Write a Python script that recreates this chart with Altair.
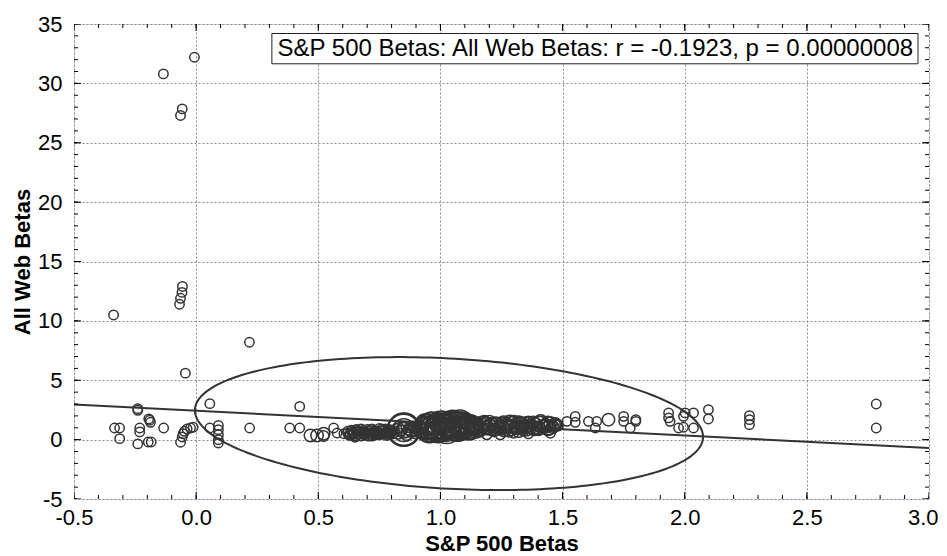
import numpy as np
import pandas as pd
import altair as alt

# ---------------- data ----------------
# outlying / sparse firms (S&P 500 beta, All-web beta, bubble weight)
sp_sparse = [-0.007, -0.134, -0.057, -0.064, -0.056, -0.058, -0.064, -0.068, -0.338, 0.218, -0.044,
             -0.334, -0.313, -0.313, -0.239, -0.239, -0.231, -0.231, -0.239, -0.194, -0.190, -0.187,
             -0.196, -0.184, -0.133, -0.064, -0.057, -0.053, -0.048, -0.037, -0.023, -0.012,
             0.056, 0.056, 0.091, 0.091, 0.091, 0.091, 0.091, 0.219,
             0.424, 0.383, 0.424, 0.468, 0.495, 0.522, 0.522, 0.563, 0.577, 0.605]
web_sparse = [32.2, 30.8, 27.85, 27.3, 12.9, 12.4, 11.9, 11.4, 10.5, 8.2, 5.6,
              0.98, 0.98, 0.08, 2.61, 2.47, 0.98, 0.65, -0.36, 1.74, 1.63, 1.46,
              -0.2, -0.2, 0.98, -0.22, 0.22, 0.5, 0.7, 0.9, 0.98, 1.04,
              3.03, 0.98, 1.2, 0.84, 0.42, 0.0, -0.28, 0.98,
              2.8, 0.98, 0.98, 0.35, 0.35, 0.5, 0.3, 0.98, 0.56, 0.5]
w_sparse = [1.0] * 43 + [1.75, 1.75, 1.75, 1.3, 1.0, 1.0, 1.0]

# left part of the main cluster
sp_a = [0.620, 0.630, 0.635, 0.645, 0.650, 0.655, 0.665, 0.670, 0.675, 0.685, 0.690, 0.700, 0.705,
        0.715, 0.720, 0.730, 0.735, 0.745, 0.750, 0.760, 0.765, 0.775, 0.780, 0.790, 0.795, 0.805]
web_a = [0.55, 0.35, 0.75, 0.50, 0.20, 0.85, 0.45, 0.65, 0.30, 0.80, 0.50, 0.35, 0.70,
         0.55, 0.90, 0.40, 0.70, 0.55, 0.95, 0.45, 0.75, 0.60, 0.35, 0.85, 0.55, 0.70]
w_a = [1.0] * 26

# the large ring near 0.85
sp_ring = [0.85, 0.85, 0.851, 0.849, 0.85, 0.85, 0.83, 0.86, 0.87, 0.84]
web_ring = [0.84, 0.84, 0.86, 0.82, 0.8, 0.8, 1.0, 0.6, 1.0, 0.75]
w_ring = [12.5, 12.0, 11.6, 11.2, 6.0, 2.9, 1.1, 1.1, 1.0, 1.3]

# dense core
sp_core = [0.88, 0.89, 0.90, 0.91, 0.92,
           0.95, 0.97, 1.00, 1.02, 1.05, 1.07, 1.09, 1.11, 1.12, 0.96, 1.03, 1.08,
           0.94, 0.98, 1.01, 1.04, 1.06, 1.10, 0.99, 1.13]
web_core = [0.8, 1.1, 0.6, 1.0, 0.75,
            1.1, 0.9, 1.2, 0.95, 1.15, 0.9, 1.2, 1.0, 0.8, 0.6, 1.5, 0.5,
            1.3, 1.0, 0.9, 1.25, 1.0, 1.1, 1.4, 1.2]
w_core = [1.75, 1.3, 1.75, 2.3, 2.3,
          7.0, 8.0, 9.1, 8.0, 9.1, 7.0, 8.0, 6.0, 3.6, 2.3, 2.9, 2.3,
          5.0, 6.0, 5.0, 6.0, 5.0, 5.0, 4.0, 4.0]

# the many firms packed along the band 0.62 .. 1.48
sp_e = [0.62, 0.63, 0.64, 0.65, 0.66, 0.67, 0.68, 0.69, 0.70, 0.71, 0.72, 0.73, 0.74, 0.75, 0.76,
        0.77, 0.78, 0.79, 0.80, 0.81, 0.82, 0.83, 0.84, 0.85, 0.86, 0.87, 0.88, 0.89, 0.90, 0.91,
        0.92, 0.93, 0.94, 0.95, 0.96, 0.97, 0.98, 0.99, 1.00, 1.01, 1.02, 1.03, 1.04, 1.05, 1.06,
        1.07, 1.08, 1.09, 1.10, 1.11, 1.12, 1.13, 1.14, 1.15, 1.16, 1.17, 1.18, 1.19, 1.20, 1.21,
        1.22, 1.23, 1.24, 1.25, 1.26, 1.27, 1.28, 1.29, 1.30, 1.31, 1.32, 1.33, 1.34, 1.35, 1.36,
        1.37, 1.38, 1.39, 1.40, 1.41, 1.42, 1.43, 1.44, 1.45, 1.46, 1.47, 1.48]
web_e = [0.70, 0.45, 0.60, 0.30, 0.80, 0.50, 0.65, 0.40, 0.85, 0.55, 0.30, 0.75, 0.60, 0.45, 0.90,
         0.50, 0.70, 0.40, 0.80, 0.60, 0.90, 0.50, 0.75, 1.00, 0.40, 0.85, 0.65, 1.05, 0.70, 0.90,
         0.55, 1.00, 1.20, 0.80, 1.40, 1.00, 1.30, 0.70, 1.10, 1.50, 0.90, 1.25, 1.05, 1.35, 0.85,
         1.15, 1.45, 0.95, 1.30, 1.10, 0.75, 1.20, 1.00, 1.30, 0.80, 1.20, 1.50, 0.90, 1.10, 1.35,
         0.70, 1.25, 1.00, 1.45, 0.85, 1.15, 1.30, 0.95, 1.50, 1.05, 0.80, 1.35, 1.20, 0.90, 1.45,
         1.10, 1.00, 1.30, 0.85, 1.50, 1.15, 1.25, 0.95, 1.40, 1.10, 1.30, 1.20]
w_e = [1.0] * 19 + [1.3] * 13 + \
      [4.0, 6.0, 5.0, 7.0, 4.0, 6.0, 8.0, 5.0, 6.0, 7.0, 5.0, 8.0, 6.0, 4.0, 7.0, 6.0, 5.0, 7.0, 4.0, 3.0] + \
      [2.3, 1.75, 1.3, 2.3, 1.75, 1.3, 2.3, 1.75, 1.3, 2.3, 1.75, 1.3, 2.3, 1.75, 1.3, 2.3, 1.75, 1.3,
       2.3, 1.75, 1.3, 2.3, 1.75, 1.3, 2.3, 1.75, 1.3, 2.3, 1.75, 1.3, 2.3, 1.75, 1.3, 1.75, 1.3]

# a second layer of firms in between
sp_f = [0.625, 0.635, 0.645, 0.655, 0.665, 0.675, 0.685, 0.695, 0.705, 0.715, 0.725, 0.735, 0.745,
        0.755, 0.765, 0.775, 0.785, 0.795, 0.805,
        0.935, 0.945, 0.955, 0.965, 0.975, 0.985, 0.995, 1.005, 1.015, 1.025, 1.035, 1.045, 1.055,
        1.065, 1.075, 1.085, 1.095, 1.105, 1.115, 1.125,
        1.145, 1.165, 1.185, 1.205, 1.225, 1.245, 1.265, 1.285, 1.305, 1.325, 1.345, 1.365, 1.385,
        1.405, 1.425, 1.445, 1.465]
web_f = [0.40, 0.80, 0.55, 0.35, 0.70, 0.90, 0.45, 0.60, 0.30, 0.85, 0.50, 0.65, 0.40, 0.75,
         0.55, 0.90, 0.45, 0.65, 0.50,
         0.95, 1.25, 0.85, 1.35, 1.05, 1.20, 0.95, 1.40, 1.10, 0.85, 1.30, 1.00, 1.25, 0.90, 1.35,
         1.05, 1.20, 0.95, 1.15, 1.30,
         1.25, 0.95, 1.40, 1.05, 1.30, 0.90, 1.20, 1.45, 1.00, 1.25, 1.10, 1.40, 0.95, 1.30,
         1.15, 1.00, 1.25]
w_f = [1.0] * 19 + \
      [6.0, 5.0, 8.0, 6.0, 7.0, 5.0, 8.0, 6.0, 7.0, 9.0, 6.0, 5.0, 8.0, 7.0, 6.0, 5.0, 7.0, 6.0, 5.0, 4.0] + \
      [2.9, 2.3, 1.75, 2.9, 2.3, 1.75, 2.9, 2.3, 1.75, 2.9, 2.3, 1.75, 2.3, 2.9, 1.75, 2.3, 1.75]

# right part of the main cluster
sp_d = [1.14, 1.16, 1.17, 1.19, 1.20, 1.22, 1.23, 1.25, 1.26, 1.28, 1.29, 1.31, 1.32, 1.34,
        1.35, 1.37, 1.38, 1.40, 1.41, 1.43, 1.44, 1.46, 1.47, 1.48,
        1.15, 1.19, 1.245, 1.30, 1.36, 1.45]
web_d = [1.1, 0.9, 1.3, 1.0, 1.35, 0.85, 1.2, 1.0, 1.4, 0.9, 1.25, 1.05, 1.4, 0.95,
         1.25, 1.1, 1.45, 0.95, 1.3, 1.15, 1.45, 1.05, 1.3, 1.2,
         0.55, 0.42, 0.42, 0.56, 0.5, 0.56]
w_d = [3.6, 2.9, 2.9, 2.3, 2.9, 1.75, 2.9, 2.3, 2.3, 2.9, 2.9, 2.3, 2.3, 2.3,
       2.9, 2.3, 1.75, 2.3, 2.9, 2.3, 1.75, 1.75, 1.75, 1.3,
       1.1, 1.1, 1.1, 1.1, 1.1, 1.1]

# sparse firms on the right
sp_right = [1.518, 1.552, 1.552, 1.606, 1.634, 1.640, 1.688, 1.750, 1.750, 1.777, 1.800, 1.800,
            1.934, 1.934, 1.940, 1.975, 1.995, 2.002, 1.995, 2.036, 2.036, 2.097, 2.097,
            2.265, 2.265, 2.265, 2.784, 2.784]
web_right = [1.54, 1.96, 1.46, 1.54, 0.98, 1.54, 1.68, 1.96, 1.54, 0.98, 1.68, 1.54,
             2.25, 1.83, 1.54, 0.98, 1.04, 2.25, 1.96, 2.25, 0.98, 2.53, 1.74,
             2.02, 1.68, 1.26, 3.0, 0.98]
w_right = [1.0, 1.0, 1.0, 1.0, 1.0, 1.0, 1.75, 1.0, 1.0, 1.0, 1.0, 1.0,
           1.0, 1.0, 1.0, 1.0, 1.0, 1.0, 1.0, 1.0, 1.0, 1.0, 1.0,
           1.0, 1.0, 1.0, 1.0, 1.0]

# regression line end points
line_x = [-0.5, 3.0]
line_y = [2.95, -0.70]

# 95% ellipse parameters (centre, half-widths, phase)
ell_cx, ell_cy = 1.035, 1.35
ell_ax, ell_by = 1.04, 5.6
ell_phi_deg = 101.5

# axes
x_ticks = [-0.5, 0.0, 0.5, 1.0, 1.5, 2.0, 2.5, 3.0]
y_ticks = [-5, 0, 5, 10, 15, 20, 25, 30, 35]
x_minor = [round(-0.5 + 0.1 * i, 2) for i in range(36)]
y_minor = list(range(-5, 36))

annot = "S&P 500 Betas: All Web Betas: r = -0.1923, p = 0.00000008"

# ---------------- tables ----------------
pts = pd.DataFrame({
    "sp": sp_sparse + sp_a + sp_ring + sp_core + sp_e + sp_f + sp_d + sp_right,
    "web": web_sparse + web_a + web_ring + web_core + web_e + web_f + web_d + web_right,
    "w": w_sparse + w_a + w_ring + w_core + w_e + w_f + w_d + w_right,
})
reg = pd.DataFrame({"sp": line_x, "web": line_y})
t = np.linspace(0, 2 * np.pi, 241)
phi = np.deg2rad(ell_phi_deg)
ell = pd.DataFrame({"sp": ell_cx + ell_ax * np.cos(t),
                    "web": ell_cy + ell_by * np.cos(t + phi),
                    "k": np.arange(len(t))})

FONT = "Liberation Sans"
INK = "#333333"
XS = alt.Scale(domain=[-0.5, 3.0], nice=False, zero=False)
YS = alt.Scale(domain=[-5, 35], nice=False, zero=False)

x_axis = alt.Axis(values=x_ticks, title="S&P 500 Betas", ticks=False, domain=False,
                  labelExpr="datum.value < 0 ? '-' + format(-datum.value, '.1f') : format(datum.value, '.1f')",
                  labelAlign={"condition": {"test": "datum.value >= 3", "value": "right"}, "value": "center"},
                  labelOffset={"condition": {"test": "datum.value >= 3", "value": 9}, "value": 0},
                  labelFontSize=22, labelPadding=8, labelFlush=False, titleFontSize=22,
                  titleFontWeight="bold", titlePadding=5, grid=True, gridDash=[2, 2],
                  gridColor="#8a8a8a", labelFont=FONT, titleFont=FONT,
                  labelColor="black", titleColor="black")
y_axis = alt.Axis(values=y_ticks, title="All Web Betas", ticks=False, domain=False,
                  labelExpr="datum.value < 0 ? '-' + format(-datum.value, 'd') : format(datum.value, 'd')",
                  labelFontSize=22, labelPadding=12, labelFlush=False, titleFontSize=22,
                  titleFontWeight="bold", titlePadding=3, grid=True, gridDash=[2, 2],
                  gridColor="#8a8a8a", labelFont=FONT, titleFont=FONT,
                  labelColor="black", titleColor="black")


def X(field):
    return alt.X(field, type="quantitative", scale=XS, axis=x_axis)


def Y(field):
    return alt.Y(field, type="quantitative", scale=YS, axis=y_axis)


points = alt.Chart(pts).mark_point(shape="circle", filled=False, stroke=INK,
                                   strokeWidth=1.5, opacity=1, clip=True).encode(
    x=X("sp"), y=Y("web"),
    size=alt.Size("w:Q", scale=alt.Scale(domain=[0, 10], range=[0, 880]), legend=None),
)

regline = alt.Chart(reg).mark_line(color=INK, strokeWidth=2, clip=True).encode(
    x=X("sp"), y=Y("web"),
)

ellipse = alt.Chart(ell).mark_line(color=INK, strokeWidth=2, clip=True).encode(
    x=X("sp"), y=Y("web"), order="k:Q",
)


def tick_layer(df, orient, size):
    return alt.Chart(df).mark_tick(orient=orient, size=size, thickness=1,
                                   color="black", clip=True, opacity=1).encode(
        x=X("tx"), y=Y("ty"),
    )


tick_layers = []
for yv in (-5, 35):
    tick_layers.append(tick_layer(pd.DataFrame({"tx": x_ticks, "ty": [yv] * len(x_ticks)}), "vertical", 14))
    tick_layers.append(tick_layer(pd.DataFrame({"tx": x_minor, "ty": [yv] * len(x_minor)}), "vertical", 8))
for xv in (-0.5, 3.0):
    tick_layers.append(tick_layer(pd.DataFrame({"tx": [xv] * len(y_ticks), "ty": y_ticks}), "horizontal", 14))
    tick_layers.append(tick_layer(pd.DataFrame({"tx": [xv] * len(y_minor), "ty": y_minor}), "horizontal", 8))

box_df = pd.DataFrame({"x0": [0.31], "x1": [2.955], "y0": [31.65], "y1": [34.2],
                       "xm": [1.634], "ym": [32.92], "label": [annot]})
box = alt.Chart(box_df).mark_rect(fill="white", stroke="#222222", strokeWidth=1).encode(
    x=X("x0"), x2="x1:Q", y=Y("y0"), y2="y1:Q",
)
box_text = alt.Chart(box_df).mark_text(font=FONT, fontSize=24, color="black",
                                       align="center", baseline="middle").encode(
    x=X("xm"), y=Y("ym"), text="label:N",
)

chart = alt.layer(points, ellipse, regline, *tick_layers, box, box_text).properties(
    width=855, height=475,
    autosize=alt.AutoSizeParams(type="none"),
    padding={"left": 66, "top": 16, "right": 10, "bottom": 56},
).configure_view(stroke="black", strokeWidth=1).configure(background="white")

chart.save("out.html", embed_options={"renderer": "svg", "actions": False})
